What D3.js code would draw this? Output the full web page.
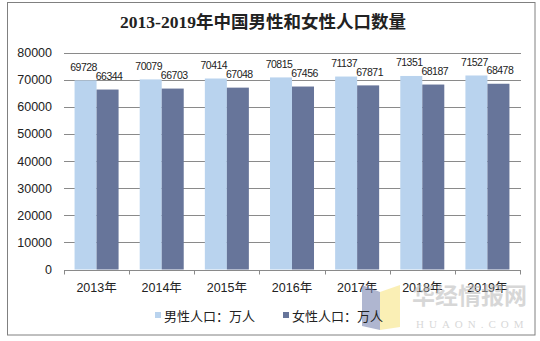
<!DOCTYPE html>
<html>
<head>
<meta charset="utf-8">
<script src="https://cdn.jsdelivr.net/npm/d3@7"></script>
<style>
  html, body { margin: 0; padding: 0; background: #fff; }
  svg { display: block; }
</style>
</head>
<body>
<svg id="chart" width="540" height="341"></svg>
<script>
// Population of China by sex, 2013–2019 (unit: 10,000 people)
const years = ["2013年", "2014年", "2015年", "2016年", "2017年", "2018年", "2019年"];
const male = [69728, 70079, 70414, 70815, 71137, 71351, 71527];
const female = [66344, 66703, 67048, 67456, 67871, 68187, 68478];
const seriesNames = ["男性人口：万人", "女性人口：万人"];
const yTicks = [0, 10000, 20000, 30000, 40000, 50000, 60000, 70000, 80000];
const colors = ["#b9d3ee", "#67759a"];

const svg = d3.select("#chart");
const plot = { left: 64, right: 520, top: 52.5, bottom: 269.5 };
const sansFont = "'Liberation Sans', Arial, 'Noto Sans CJK SC', sans-serif";

// outer frame
svg.append("rect")
  .attr("x", 7.5).attr("y", 2.5)
  .attr("width", 527.5).attr("height", 332.5)
  .attr("fill", "#fff").attr("stroke", "#808080").attr("stroke-width", 1);

// title
svg.append("text")
  .attr("x", 263).attr("y", 28)
  .attr("text-anchor", "middle")
  .attr("font-family", "'Liberation Serif', 'Noto Sans CJK SC', serif")
  .attr("font-weight", "bold")
  .attr("font-size", 17.5)
  .attr("fill", "#222")
  .text("2013-2019年中国男性和女性人口数量");

const x = d3.scaleBand().domain(years).range([plot.left, plot.right]);
const y = d3.scaleLinear().domain([0, 80000]).range([plot.bottom, plot.top]);

// horizontal grid lines
svg.append("g").selectAll("line")
  .data(yTicks.filter(t => t > 0))
  .join("line")
  .attr("x1", plot.left).attr("x2", plot.right + 1)
  .attr("y1", d => Math.round(y(d)) + 0.5).attr("y2", d => Math.round(y(d)) + 0.5)
  .attr("stroke", "#8a8a8a").attr("stroke-width", 1);

// y axis labels
svg.append("g").selectAll("text")
  .data(yTicks)
  .join("text")
  .attr("x", 52).attr("y", d => y(d) + 4.5)
  .attr("text-anchor", "end")
  .attr("font-family", sansFont)
  .attr("font-size", 12.5)
  .attr("fill", "#222")
  .text(d => d);

// bars: two adjacent bars per year, centred in each band
const inner = d3.scaleBand().domain([0, 1]).range([0, x.bandwidth()]).paddingOuter(0.48).paddingInner(0);
const barData = years.flatMap((yr, i) => [
  { yr, s: 0, v: male[i] },
  { yr, s: 1, v: female[i] }
]);

svg.append("g").selectAll("rect")
  .data(barData)
  .join("rect")
  .attr("x", d => x(d.yr) + inner(d.s))
  .attr("width", inner.bandwidth())
  .attr("y", d => y(d.v))
  .attr("height", d => y(0) - y(d.v))
  .attr("fill", d => colors[d.s]);

// x axis line and ticks
const axisY = Math.round(y(0)) + 0.5;
svg.append("line")
  .attr("x1", plot.left).attr("x2", plot.right + 1)
  .attr("y1", axisY).attr("y2", axisY)
  .attr("stroke", "#8a8a8a");
svg.append("g").selectAll("line")
  .data(years.map(d => x(d)).concat([plot.right]))
  .join("line")
  .attr("x1", d => Math.round(d) + 0.5).attr("x2", d => Math.round(d) + 0.5)
  .attr("y1", axisY).attr("y2", axisY + 4)
  .attr("stroke", "#8a8a8a");

// category labels
svg.append("g").selectAll("text")
  .data(years)
  .join("text")
  .attr("x", d => x(d) + x.bandwidth() / 2)
  .attr("y", 292)
  .attr("text-anchor", "middle")
  .attr("font-family", sansFont)
  .attr("font-size", 12.5)
  .attr("fill", "#222")
  .text(d => d);

// value labels above each bar
svg.append("g").selectAll("text")
  .data(barData)
  .join("text")
  .attr("x", d => x(d.yr) + inner(d.s) + inner.bandwidth() / 2 + (d.s === 0 ? -2 : 1.5))
  .attr("y", d => y(d.v) - 9.5)
  .attr("text-anchor", "middle")
  .attr("font-family", sansFont)
  .attr("font-size", 10.5)
  .attr("letter-spacing", -0.5)
  .attr("fill", "#222")
  .text(d => d.v);

// watermark
const wm = svg.append("g").attr("opacity", 0.55);
wm.append("path").attr("d", "M362,285 L380,292 L380,330 L362,326 Z").attr("fill", "#6e7cab");
wm.append("path").attr("d", "M380,292 L400,285 L400,327 L380,330 Z").attr("fill", "#f7e27a");
wm.append("text")
  .attr("x", 412).attr("y", 304)
  .attr("font-family", "'Noto Sans CJK SC', sans-serif")
  .attr("font-weight", "bold")
  .attr("font-size", 23)
  .attr("fill", "#b8b8b8")
  .text("华经情报网");
wm.append("text")
  .attr("x", 416).attr("y", 328)
  .attr("font-family", "'Liberation Serif', serif")
  .attr("font-size", 11)
  .attr("letter-spacing", 5)
  .attr("fill", "#b8b8b8")
  .text("HUAON.COM");

// legend
const legend = svg.append("g");
const legendX = [155, 283];
seriesNames.forEach((name, i) => {
  legend.append("rect")
    .attr("x", legendX[i]).attr("y", 312)
    .attr("width", 6).attr("height", 6)
    .attr("fill", colors[i]);
  legend.append("text")
    .attr("x", legendX[i] + 9).attr("y", 320.5)
    .attr("font-family", "'Noto Sans CJK SC', sans-serif")
    .attr("font-size", 13)
    .attr("fill", "#222")
    .text(name);
});
</script>
</body>
</html>
